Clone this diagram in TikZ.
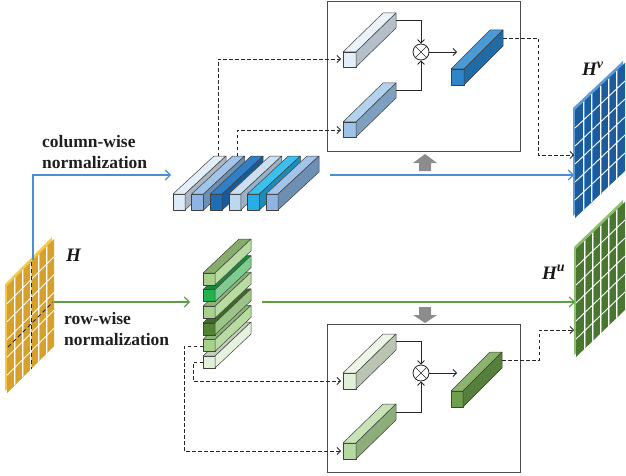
\documentclass[tikz,border=0pt]{standalone}
\usepackage{fontspec}
\setmainfont{Liberation Serif}
\usetikzlibrary{arrows.meta,calc}

\definecolor{flowblue}{HTML}{4A8FD4}
\definecolor{flowgreen}{HTML}{5E9E45}
\definecolor{Hyel}{HTML}{D6A02A}
\definecolor{Hyellight}{HTML}{F5C947}
\definecolor{Hvmain}{HTML}{1C5C9C}
\definecolor{Hvlight}{HTML}{5D9CD8}
\definecolor{Humain}{HTML}{4A7730}
\definecolor{Hulight}{HTML}{8FBF70}

\newcommand\cuboid[9]{% x y w h dx dy front top side
  \definecolor{cubF}{HTML}{#7}\definecolor{cubT}{HTML}{#8}\definecolor{cubS}{HTML}{#9}%
  \filldraw[cubeline, fill=cubF] (#1,#2) rectangle ++(#3,#4);
  \filldraw[cubeline, fill=cubT] (#1,#2) -- ++(#3,0) -- ++(#5,#6) -- ++(-#3,0) -- cycle;
  \filldraw[cubeline, fill=cubS] (#1+#3,#2) -- ++(0,#4) -- ++(#5,#6) -- ++(0,-#4) -- cycle;
}
\newcommand\featgrid[7]{% x0 y0 w h skew main light
  \fill[#7] (#1-2,#2-2) -- ++(#3,-#5) -- ++(0,#4) -- ++(-#3,#5) -- cycle;
  \fill[#6] (#1,#2) -- ++(#3,-#5) -- ++(0,#4) -- ++(-#3,#5) -- cycle;
  \foreach \i in {1,...,5}{
    \draw[#7, line width=0.6pt] (#1+\i*#3/6+0.9, #2-\i*#5/6-0.9) -- ++(0,#4);
  }
  \foreach \i in {1,...,5}{
    \draw[white, line width=0.9pt] (#1+\i*#3/6, #2-\i*#5/6) -- ++(0,#4);
    \draw[white, line width=0.9pt] (#1, #2+\i*#4/6) -- ++(#3,-#5);
  }
}

\tikzset{
  cubeline/.style={draw=black!75, line width=0.5pt, line join=round},
  dashconn/.style={draw=black!85, line width=0.8pt, dash pattern=on 3.5pt off 2.5pt, -{Straight Barb[length=3.5pt,width=7pt]}},
  solidconn/.style={draw=black!85, line width=0.8pt, -{Straight Barb[length=3.5pt,width=7pt]}},
  bflow/.style={draw=flowblue, line width=1.1pt, -{Straight Barb[length=5pt,width=10pt]}},
  gflow/.style={draw=flowgreen, line width=1.1pt, -{Straight Barb[length=5pt,width=10pt]}},
  lbl/.style={font=\fontsize{17.5}{21}\selectfont\bfseries, text=black!88, align=left, inner sep=0pt, anchor=north west},
  hlbl/.style={font=\fontsize{19}{19}\selectfont\bfseries\itshape, text=black!90, inner sep=0pt, anchor=base west},
  modbox/.style={draw=black!70, line width=1pt, inner sep=0pt, anchor=north west},
  mulnode/.style={draw=black!85, circle, minimum size=16pt, inner sep=0pt, line width=0.8pt},
  grayarrow/.style={fill=black!45},
}

\begin{document}
\begin{tikzpicture}[x=1pt,y=-1pt]
\useasboundingbox (0,0) rectangle (626,476);

% ---------- module boxes ----------
\node[modbox, minimum width=193pt, minimum height=150pt] (boxV) at (327,1) {};
\node[modbox, minimum width=193pt, minimum height=148pt] (boxU) at (327,324) {};

% ---------- feature maps ----------
\featgrid{7}{286}{47}{107}{47}{Hyel}{Hyellight}
\featgrid{575}{110}{50}{108}{47}{Hvmain}{Hvlight}
\featgrid{576}{249}{49}{108}{47}{Humain}{Hulight}

% dashed marks on H
\draw[black!85, line width=1pt, dash pattern=on 4pt off 3pt] (31,262) -- (31,369);
\draw[black!85, line width=1pt, dash pattern=on 4pt off 3pt] (8,347) -- (53,302);

% labels
\node[hlbl] (Hl) at (66,261) {H};
\node[hlbl] (Hvl) at (582,76) {H\raisebox{0.85ex}{\fontsize{14}{14}\selectfont v}};
\node[hlbl] (Hul) at (542,279) {H\raisebox{0.85ex}{\fontsize{14}{14}\selectfont u}};
\node[lbl] (colLbl) at (42,135) {column-wise\\normalization};
\node[lbl] (rowLbl) at (64,312) {row-wise\\normalization};

% ---------- column-wise bars (blue) ----------
\cuboid{173}{194}{12}{16}{41}{-38}{DDEBF7}{E4EEF8}{ACB6C1}
\cuboid{191.6}{194}{12}{16}{41}{-38}{8DB4E2}{A3C4EA}{6D8FB3}
\cuboid{210.2}{194}{12}{16}{41}{-38}{1F6DB4}{2F80C6}{1A5A96}
\cuboid{228.8}{194}{12}{16}{41}{-38}{BDD7EE}{CCDFF1}{9BB0C4}
\cuboid{247.4}{194}{12}{16}{41}{-38}{28AEE6}{3CC0EE}{1E8CBB}
\cuboid{266}{194}{12}{16}{41}{-38}{8DB4E2}{A3C4EA}{6D8FB3}

% ---------- row-wise bars (green), bottom first ----------
\cuboid{203}{356}{12}{12}{36}{-34}{E2F0D9}{C4D0BC}{E6F2DE}
\cuboid{203}{339.4}{12}{12}{36}{-34}{A9D18E}{8DB578}{B8DBA2}
\cuboid{203}{322.8}{12}{12}{36}{-34}{548235}{3F6A27}{9DC487}
\cuboid{203}{306.2}{12}{12}{36}{-34}{A9D18E}{8DB578}{B8DBA2}
\cuboid{203}{289.6}{12}{12}{36}{-34}{22B14C}{168A3A}{7FCB8F}
\cuboid{203}{273}{12}{12}{36}{-34}{A9D18E}{86AD6B}{B8DBA2}

% ---------- bars inside the upper box ----------
\cuboid{343}{52}{13}{15}{40}{-39}{E3EEF8}{EBF2FA}{B5BFC9}
\cuboid{343}{122}{13}{15}{40}{-39}{9DC3E6}{B4D2EE}{7E9FBD}
\cuboid{451}{69}{13}{16}{39}{-39}{2E86C8}{4A9AD6}{1F6BA5}

% ---------- bars inside the lower box ----------
\cuboid{343}{373}{13}{16}{40}{-39}{E2F0D9}{EDF5E7}{B9C5B2}
\cuboid{343}{443}{13}{16}{40}{-39}{B5D9A0}{C8E3B7}{8DAE7B}
\cuboid{451}{391}{12}{16}{39}{-39}{6E9E4E}{8CB46F}{557F3A}

% ---------- multiplication nodes ----------
\node[mulnode] (mulV) at (421,52) {};
\draw[black!85, line width=0.6pt] (mulV.north east) -- (mulV.south west) (mulV.north west) -- (mulV.south east);
\node[mulnode] (mulU) at (421,373) {};
\draw[black!85, line width=0.6pt] (mulU.north east) -- (mulU.south west) (mulU.north west) -- (mulU.south east);

% ---------- coordinates ----------
\coordinate (aV) at (396,20);
\coordinate (bV) at (396,90);
\coordinate (oVin) at (457,52);
\coordinate (oVout) at (503,38);
\coordinate (turnV) at (538,155);
\coordinate (HvIn) at (574,155);
\coordinate (cb1) at (218,156);
\coordinate (cb2) at (237,156);
\coordinate (inA) at (341,59);
\coordinate (inB) at (341,130);

\coordinate (aU) at (396,341);
\coordinate (bU) at (396,412);
\coordinate (oUin) at (457,373);
\coordinate (oUout) at (502,360);
\coordinate (turnU) at (539,330);
\coordinate (HuIn) at (574,330);
\coordinate (g5) at (203,346);
\coordinate (g6) at (203,362);
\coordinate (turnG5) at (184,451);
\coordinate (turnG6) at (193,381);
\coordinate (inAu) at (341,381);
\coordinate (inBu) at (341,451);

\coordinate (Htop) at (33,260);
\coordinate (colIn) at (171,175);
\coordinate (colOut) at (330,175);
\coordinate (HvFlow) at (574,175);
\coordinate (Hright) at (54,302);
\coordinate (rowIn) at (190,302);
\coordinate (rowOut) at (262,302);
\coordinate (HuFlow) at (575,302);

% ---------- connectors inside boxes ----------
\draw[solidconn] (aV) -| (mulV.north);
\draw[solidconn] (bV) -| (mulV.south);
\draw[solidconn] (mulV.east) -- (oVin);
\draw[solidconn] (aU) -| (mulU.north);
\draw[solidconn] (bU) -| (mulU.south);
\draw[solidconn] (mulU.east) -- (oUin);

% ---------- dashed connectors ----------
\draw[dashconn] (cb1) |- (inA);
\draw[dashconn] (cb2) |- (inB);
\draw[dashconn] (oVout) -| (turnV) -- (HvIn);
\draw[dashconn] (g5) -| (turnG5) -- (inBu);
\draw[dashconn] (g6) -| (turnG6) -- (inAu);
\draw[dashconn] (oUout) -| (turnU) -- (HuIn);

% ---------- flow arrows ----------
\draw[bflow] (Htop) |- (colIn);
\draw[bflow] (colOut) -- (HvFlow);
\draw[gflow] (Hright) -- (rowIn);
\draw[gflow] (rowOut) -- (HuFlow);

% ---------- gray block arrows ----------
\fill[grayarrow] (419,171) -- (419,163) -- (413,163) -- (425,154) -- (437,163) -- (431,163) -- (431,171) -- cycle;
\fill[grayarrow] (419,307) -- (431,307) -- (431,315) -- (437,315) -- (425,323) -- (413,315) -- (419,315) -- cycle;
\end{tikzpicture}
\end{document}
